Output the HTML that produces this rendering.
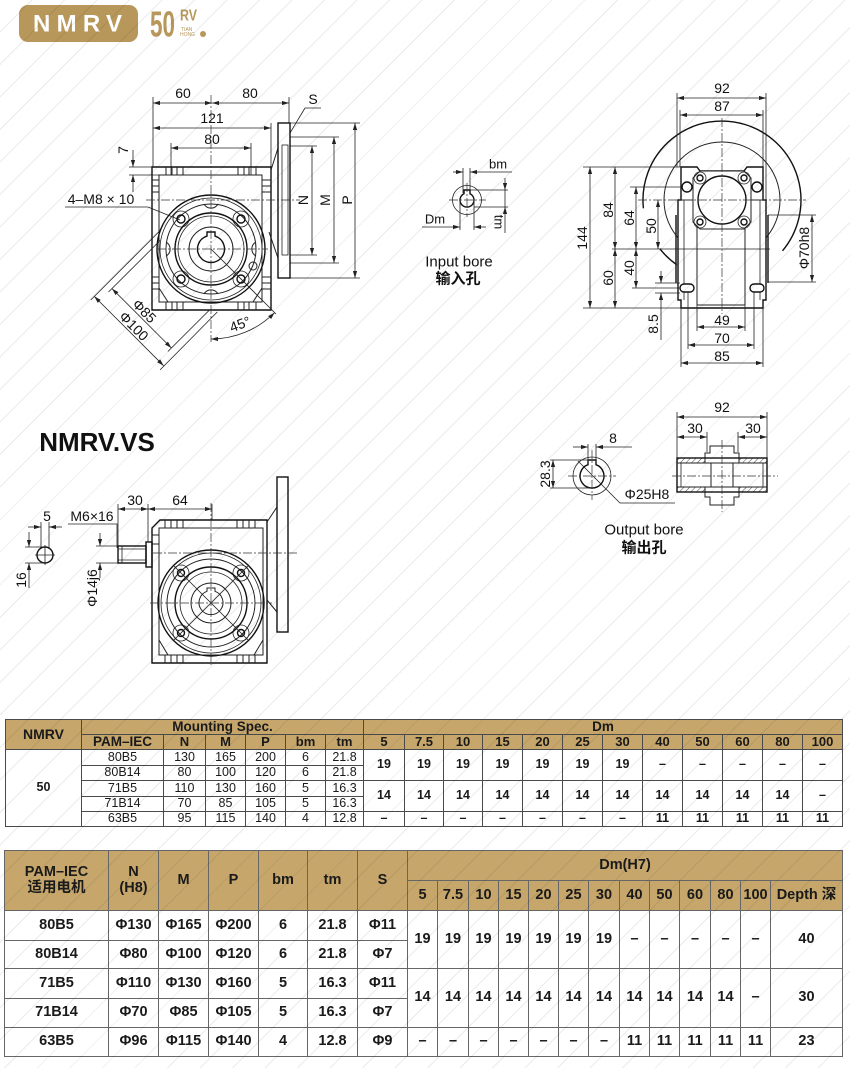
<!DOCTYPE html>
<html><head><meta charset="utf-8">
<style>
*{margin:0;padding:0;box-sizing:border-box}
body{width:850px;height:1068px;overflow:hidden;background:#fff;position:relative;font-family:"Liberation Sans","Noto Sans CJK SC",sans-serif;color:#1a1a1a}
svg{position:absolute;left:0;top:0}
.ov{position:absolute;left:0;top:0;width:850px;height:1068px;pointer-events:none;background:repeating-linear-gradient(135deg,rgba(0,0,0,0) 0 22px,rgba(0,0,0,0.08) 22px 23px)}
.grid{position:absolute;display:grid;gap:1px;padding:1px}
.grid div{background:#fff;display:flex;align-items:center;justify-content:center;text-align:center;line-height:1.05;white-space:nowrap}
.grid div.h{background:#c6a66b;font-weight:bold}
.g1{left:5px;top:719px;background:#4a4a4a;grid-template-columns:75px 81px 41px 39px 39px 39px 37px 40px 38px 38px 39px 39px 39px 39px 39px 39px 39px 39px 39px;grid-template-rows:14px 14px 15px 14px 15px 14px 14px;font-size:12.5px}
.g1 div.h{font-size:13px}
.g2{left:4px;top:850px;background:#666;grid-template-columns:103px 49px 49px 49px 48px 49px 49px 29px 30px 29px 29px 29px 29px 30px 29px 29px 30px 29px 29px 71px;grid-template-rows:29px 29px 29px 27px 29px 28px 28px;font-size:14.5px;font-weight:bold}
.g2 div.h{font-size:14.5px}
.b{font-weight:bold}
.r2{grid-row:span 2}
</style></head><body>
<svg width="850" height="712" viewBox="0 0 850 712">
<defs>
<marker id="a" viewBox="0 0 10 6" refX="10" refY="3" markerWidth="8" markerHeight="4.2" orient="auto-start-reverse" markerUnits="userSpaceOnUse"><path d="M0,0L10,3L0,6z" fill="#222"/></marker>
<pattern id="hp" width="4" height="4" patternUnits="userSpaceOnUse" patternTransform="rotate(45)"><line x1="0" y1="0" x2="0" y2="4" stroke="#333" stroke-width="0.9"/></pattern>
</defs>
<style>
.t{stroke:#222;stroke-width:.8;fill:none}
.k{stroke:#111;stroke-width:1.4;fill:none}
.m{stroke:#222;stroke-width:1;fill:none}
.d{stroke:#222;stroke-width:.8;fill:none;marker-start:url(#a);marker-end:url(#a)}
.e{stroke:#222;stroke-width:.8;fill:none;marker-end:url(#a)}
.c{stroke:#333;stroke-width:.7;fill:none;stroke-dasharray:9 2 2 2}
text{font-family:"Liberation Sans","Noto Sans CJK SC",sans-serif;font-size:14px;fill:#111;text-anchor:middle;dominant-baseline:central}
</style>

<!-- HEADER LOGO -->
<rect x="19" y="5" width="119" height="37" rx="9" fill="#b8975a"/>
<text x="33" y="24" textLength="89" lengthAdjust="spacing" style="text-anchor:start;font-size:24px;font-weight:bold;fill:#fff">NMRV</text>
<text x="150" y="24" textLength="25" lengthAdjust="spacingAndGlyphs" style="text-anchor:start;font-size:36px;font-weight:bold;fill:#b8975a">50</text>
<text x="180" y="16" textLength="17" lengthAdjust="spacingAndGlyphs" style="text-anchor:start;font-size:16px;font-weight:bold;fill:#b8975a">RV</text>
<text x="181" y="30" style="text-anchor:start;font-size:5px;fill:#b8975a">TIAN</text>
<text x="180" y="35" style="text-anchor:start;font-size:5px;fill:#b8975a">HONG</text>
<circle cx="203" cy="34" r="3" fill="#b8975a"/>

<!-- ============ TOP LEFT VIEW ============ -->
<g class="t">
<path d="M153,97V167 M289,97V123 M271,123V167 M171,143V175 M251,143V175"/>
<path d="M129,167H152 M129,175H159"/>
<path d="M290,123H360 M290,137H339 M290,146H317 M290,255H317 M290,263H339 M290,278H360"/>
<path d="M305,108H321 M305,108L290,133"/>
<path d="M65,207H148L180,220"/>
</g>
<path class="d" d="M153,103H212"/>
<path class="d" d="M212,103H289"/>
<path class="d" d="M153,128H271"/>
<path class="d" d="M171,148H251"/>
<path class="e" d="M133,150V167"/>
<path class="e" d="M133,192V175"/>
<path class="d" d="M312,146V255"/>
<path class="d" d="M334,137V263"/>
<path class="d" d="M355,123V278"/>
<text x="183" y="93">60</text>
<text x="250" y="93">80</text>
<text x="212" y="118">121</text>
<text x="212" y="139">80</text>
<text x="123" y="150" transform="rotate(-90 123 150)">7</text>
<text x="313" y="99">S</text>
<text x="303" y="200" transform="rotate(-90 303 200)">N</text>
<text x="325" y="200" transform="rotate(-90 325 200)">M</text>
<text x="347" y="200" transform="rotate(-90 347 200)">P</text>
<text x="101" y="199">4–M8 × 10</text>

<!-- housing -->
<path class="k" d="M152,167H271V310H152Z"/>
<path class="m" d="M159,175H262V302H159Z"/>
<path class="m" d="M166,167V175M172,167V175M177,167V175M183,167V175M238,167V175M244,167V175M249,167V175M256,167V175"/>
<path class="m" d="M166,302V310M172,302V310M177,302V310M183,302V310M238,302V310M244,302V310M249,302V310M256,302V310"/>
<path class="m" d="M152,180H159M152,186H159M152,192H159M152,277H159M152,283H159M152,289H159"/>
<path class="m" d="M262,180H271M262,186H271M262,192H271M262,277H271M262,283H271M262,289H271"/>
<path class="m" d="M159,288L168,302 M262,288L253,302"/>
<!-- neck and flange -->
<path class="m" d="M271,170L278,148 M269,232L278,258"/>
<rect class="k" x="278" y="123" width="12" height="155"/>
<rect class="t" x="282" y="145" width="6" height="110"/>

<!-- circles -->
<circle class="k" cx="211" cy="249" r="54"/>
<circle class="t" cx="211" cy="249" r="51"/>
<circle class="m" cx="211" cy="249" r="45"/>
<g class="t"><circle cx="181" cy="219" r="8"/><circle cx="241" cy="219" r="8"/><circle cx="181" cy="279" r="8"/><circle cx="241" cy="279" r="8"/></g>
<path class="m" d="M204,204A8,8 0 0,0 218,204 M204,294A8,8 0 0,1 218,294 M166,242A8,8 0 0,1 166,256 M256,242A8,8 0 0,0 256,256"/>
<circle class="k" cx="211" cy="249" r="36"/>
<circle class="t" cx="211" cy="249" r="33"/>
<circle class="m" cx="211" cy="249" r="22"/>
<path class="k" d="M207,236.1V232H215V236.1A13.5,13.5 0 1,1 207,236.1Z"/>
<g class="k"><circle cx="181" cy="219" r="4"/><circle cx="241" cy="219" r="4"/><circle cx="181" cy="279" r="4"/><circle cx="241" cy="279" r="4"/></g>
<circle class="m" cx="253" cy="266" r="4"/>
<path class="c" d="M146,200H300 M157,249H268 M211,95V342"/>

<!-- phi dims -->
<path class="t" d="M90.8,300L158.7,232 M160.1,369.9L217.4,311.9"/>
<path class="t" d="M108.5,292L160.1,240.5 M167.9,351.5L209.1,310.4"/>
<path class="d" d="M94.3,296.4L163.6,365.7"/>
<path class="d" d="M112,288.6L171.4,348"/>
<text x="144.5" y="311" transform="rotate(45 144.5 311)">Φ85</text>
<text x="134" y="326" transform="rotate(45 134 326)">Φ100</text>
<path class="t" d="M211,249L276,314"/>
<path class="d" d="M211,339A90,90 0 0,0 274.6,312.6"/>
<text x="240" y="324" transform="rotate(-20 240 324)">45°</text>

<!-- ============ INPUT BORE ============ -->
<circle class="t" cx="467" cy="200" r="14.5"/>
<path class="k" d="M464,193.7V190H470V193.7A7,7 0 1,1 464,193.7Z"/>
<path class="c" d="M449,200H486 M467,183V217"/>
<path class="t" d="M463,168V193 M470,168V190 M470,190H508 M474,207H508 M460,200V230 M474,200V230"/>
<path class="e" d="M453,172H463"/>
<path class="e" d="M512,172H470"/>
<path class="t" d="M505,190V207"/>
<path class="e" d="M505,178V190"/>
<path class="e" d="M505,233V207"/>
<path class="e" d="M422,227H460"/>
<path class="e" d="M486,227H474"/>
<text x="498" y="164" style="font-size:13px">bm</text>
<text x="499" y="222" transform="rotate(90 499 222)" style="font-size:13px">tm</text>
<text x="435" y="219" style="font-size:13px">Dm</text>
<text x="459" y="262" style="font-size:15px">Input bore</text>
<text x="458" y="279" style="font-size:15px;font-weight:bold">输入孔</text>

<!-- ============ RIGHT VIEW ============ -->
<path class="k" d="M643.4,208.3A79,79 0 1,1 782.5,250.8"/>
<path class="k" d="M676.7,264.7A79,79 0 0,1 659.7,248.6"/>
<circle class="m" cx="722" cy="200" r="58"/>
<path class="k" style="fill:#fff" d="M681,167H697L700,171H744L747,167H763V200H766V300H763V308H681V300H678V200H681Z"/>
<path class="k" d="M676,215V283 M768,215V283"/>
<path class="m" d="M697,200V305 M745,200V305 M697,305H745 M681,200H697 M745,200H763"/>
<path class="t" d="M684,200V300 M760,200V300"/>
<path class="m" style="fill:#fff" d="M700,171H744L751,178V222L744,229H700L693,222V178Z"/>
<circle class="k" style="fill:#fff" cx="722" cy="200" r="24"/>
<g class="t"><circle cx="700" cy="178" r="6"/><circle cx="744" cy="178" r="6"/><circle cx="700" cy="222" r="6"/><circle cx="744" cy="222" r="6"/></g>
<g class="k"><circle cx="700" cy="178" r="3"/><circle cx="744" cy="178" r="3"/><circle cx="700" cy="222" r="3"/><circle cx="744" cy="222" r="3"/><circle cx="687" cy="187" r="5"/><circle cx="757" cy="187" r="5"/></g>
<rect class="k" style="fill:#fff" x="680" y="284" width="14" height="8" rx="4"/>
<rect class="k" style="fill:#fff" x="750" y="284" width="14" height="8" rx="4"/>
<path class="c" d="M722,118V314 M638,200H806"/>
<path class="t" d="M677,93V167 M766,93V200 M680,110V167 M763,110V167"/>
<path class="d" d="M677,98H766"/>
<path class="d" d="M680,115H763"/>
<text x="722" y="88">92</text>
<text x="722" y="106">87</text>
<path class="t" d="M583,167H681 M583,308H681 M612,249H770 M630,187H683 M632,288H680 M655,283H680 M655,293H680"/>
<path class="d" d="M590,167V308"/>
<path class="d" d="M615,167V249"/>
<path class="d" d="M615,249V308"/>
<path class="d" d="M636,187V249"/>
<path class="d" d="M636,249V288"/>
<path class="d" d="M658,200V249"/>
<path class="e" d="M661,271V283"/>
<path class="e" d="M661,305V293"/>
<path class="t" d="M661,305V340"/>
<text x="582" y="238" transform="rotate(-90 582 238)">144</text>
<text x="608" y="210" transform="rotate(-90 608 210)">84</text>
<text x="608" y="278" transform="rotate(-90 608 278)">60</text>
<text x="629" y="218" transform="rotate(-90 629 218)">64</text>
<text x="629" y="268" transform="rotate(-90 629 268)">40</text>
<text x="651" y="226" transform="rotate(-90 651 226)">50</text>
<text x="653" y="324" transform="rotate(-90 653 324)">8.5</text>
<path class="t" d="M768,215H816 M768,282H816"/>
<path class="d" d="M812,215V282"/>
<text x="804" y="248" transform="rotate(-90 804 248)">Φ70h8</text>
<path class="t" d="M697,305V331 M745,305V331 M688,292V349 M754,292V349 M681,308V367 M763,308V367"/>
<path class="d" d="M697,327H745"/>
<path class="d" d="M688,345H754"/>
<path class="d" d="M681,363H763"/>
<text x="722" y="320">49</text>
<text x="722" y="338">70</text>
<text x="722" y="356">85</text>

<!-- ============ OUTPUT BORE ============ -->
<circle class="t" cx="592" cy="476" r="19"/>
<path class="k" d="M588,464.7V460H596V464.7A12,12 0 1,1 588,464.7Z"/>
<path class="c" d="M568,476H616 M592,450V500"/>
<path class="t" d="M588,444V462 M596,444V462 M550,460H588 M550,488H592"/>
<path class="e" d="M573,447H588"/>
<path class="e" d="M632,447H596"/>
<path class="d" d="M553,460V488"/>
<text x="613" y="438">8</text>
<text x="545" y="474" transform="rotate(-90 545 474)">28.3</text>
<path class="t" d="M578,461L620,503H675"/>
<text x="647" y="494">Φ25H8</text>

<!-- hollow shaft -->
<rect x="677" y="458" width="28" height="5" fill="url(#hp)"/>
<rect x="739" y="458" width="28" height="5" fill="url(#hp)"/>
<rect x="677" y="487" width="28" height="5" fill="url(#hp)"/>
<rect x="739" y="487" width="28" height="5" fill="url(#hp)"/>
<path d="M705,463V453H710V446H734V453H739V463Z" fill="url(#hp)" class="m"/>
<path d="M705,487V497H710V505H734V497H739V487Z" fill="url(#hp)" class="m"/>
<rect class="k" x="677" y="458" width="90" height="34"/>
<path class="m" d="M677,463H767 M677,487H767 M711,463V487 M733,463V487"/>
<path class="t" d="M681,463V487 M763,463V487"/>
<path class="c" d="M672,476H778 M722,440V512"/>
<path class="t" d="M677,412V458 M767,412V458 M707,432V452 M738,432V452"/>
<path class="d" d="M677,417H767"/>
<path class="d" d="M677,437H707"/>
<path class="d" d="M738,437H767"/>
<text x="722" y="407">92</text>
<text x="695" y="428">30</text>
<text x="753" y="428">30</text>
<text x="644" y="530" style="font-size:15px">Output bore</text>
<text x="644" y="548" style="font-size:15px;font-weight:bold">输出孔</text>

<!-- ============ NMRV.VS ============ -->
<text x="97" y="442" style="font-size:26px;font-weight:bold">NMRV.VS</text>
<circle class="k" cx="45" cy="555" r="8"/>
<path class="t" d="M35,555H55 M45,545V565"/>
<path class="t" d="M41,522V549 M49,522V549 M25,547H44 M25,563H44"/>
<path class="e" d="M28,527H41"/>
<path class="e" d="M62,527H49"/>
<path class="e" d="M29,532V547"/>
<path class="e" d="M29,588V563"/>
<text x="47" y="516">5</text>
<text x="21" y="580" transform="rotate(-90 21 580)">16</text>
<text x="92" y="516">M6×16</text>
<path class="t" d="M68,524H117V548"/>
<path class="t" d="M118,504V546 M148,504V542 M212,504V520 M96,546H118 M96,563H118"/>
<path class="d" d="M118,509H148"/>
<path class="d" d="M148,509H212"/>
<text x="135" y="500">30</text>
<text x="180" y="500">64</text>
<path class="e" d="M100,533V546"/>
<path class="e" d="M100,578V563"/>
<text x="92" y="588" transform="rotate(-90 92 588)">Φ14j6</text>
<rect class="k" x="118" y="546" width="28" height="17"/>
<path class="t" d="M118,549H146 M118,560H146 M122,546V563"/>
<rect class="k" x="146" y="542" width="6" height="25"/>
<rect class="m" x="152" y="535" width="7" height="9"/>
<path class="k" d="M160,520H267V663H152V528Z"/>
<path class="m" d="M159,528H263V655H159Z"/>
<path class="m" d="M165,520V528M171,520V528M177,520V528M183,520V528M237,520V528M243,520V528M249,520V528M255,520V528"/>
<path class="m" d="M165,655V663M171,655V663M177,655V663M183,655V663M237,655V663M243,655V663M249,655V663M255,655V663"/>
<path class="m" d="M159,640L168,655 M263,640L254,655"/>
<path class="m" d="M267,522L277,507 M267,600L277,612"/>
<rect class="k" x="277" y="477" width="11" height="155"/>
<circle class="k" cx="211" cy="603" r="53"/>
<circle class="t" cx="211" cy="603" r="50"/>
<circle class="m" cx="211" cy="603" r="44"/>
<g class="t"><circle cx="181" cy="573" r="8"/><circle cx="241" cy="573" r="8"/><circle cx="181" cy="633" r="8"/><circle cx="241" cy="633" r="8"/></g>
<path class="t" d="M174,566L248,640 M248,566L174,640"/>
<circle class="k" cx="211" cy="603" r="36"/>
<circle class="t" cx="211" cy="603" r="31"/>
<circle class="m" cx="211" cy="603" r="20"/>
<path class="m" d="M207,591.3V588H215V591.3A12,12 0 1,1 207,591.3Z"/>
<g class="k"><circle cx="181" cy="573" r="3.5"/><circle cx="241" cy="573" r="3.5"/><circle cx="181" cy="633" r="3.5"/><circle cx="241" cy="633" r="3.5"/></g>
<path class="c" d="M153,553H297 M150,603H272 M211,503V665"/>
</svg>

<!-- TABLE 1 -->
<div class="grid g1">
<div class="h r2" style="font-size:14px">NMRV</div><div class="h" style="grid-column:span 6;font-size:13.5px">Mounting Spec.</div><div class="h" style="grid-column:span 12;font-size:13.5px">Dm</div>
<div class="h" style="font-size:13.5px">PAM–IEC</div><div class="h">N</div><div class="h">M</div><div class="h">P</div><div class="h">bm</div><div class="h">tm</div><div class="h">5</div><div class="h">7.5</div><div class="h">10</div><div class="h">15</div><div class="h">20</div><div class="h">25</div><div class="h">30</div><div class="h">40</div><div class="h">50</div><div class="h">60</div><div class="h">80</div><div class="h">100</div>
<div class="b" style="grid-row:span 5">50</div><div>80B5</div><div>130</div><div>165</div><div>200</div><div>6</div><div>21.8</div><div class="b r2">19</div><div class="b r2">19</div><div class="b r2">19</div><div class="b r2">19</div><div class="b r2">19</div><div class="b r2">19</div><div class="b r2">19</div><div class="b r2">–</div><div class="b r2">–</div><div class="b r2">–</div><div class="b r2">–</div><div class="b r2">–</div>
<div>80B14</div><div>80</div><div>100</div><div>120</div><div>6</div><div>21.8</div>
<div>71B5</div><div>110</div><div>130</div><div>160</div><div>5</div><div>16.3</div><div class="b r2">14</div><div class="b r2">14</div><div class="b r2">14</div><div class="b r2">14</div><div class="b r2">14</div><div class="b r2">14</div><div class="b r2">14</div><div class="b r2">14</div><div class="b r2">14</div><div class="b r2">14</div><div class="b r2">14</div><div class="b r2">–</div>
<div>71B14</div><div>70</div><div>85</div><div>105</div><div>5</div><div>16.3</div>
<div>63B5</div><div>95</div><div>115</div><div>140</div><div>4</div><div>12.8</div><div class="b">–</div><div class="b">–</div><div class="b">–</div><div class="b">–</div><div class="b">–</div><div class="b">–</div><div class="b">–</div><div class="b">11</div><div class="b">11</div><div class="b">11</div><div class="b">11</div><div class="b">11</div>
</div>

<!-- TABLE 2 -->
<div class="grid g2">
<div class="h r2">PAM–IEC<br>适用电机</div><div class="h r2">N<br>(H8)</div><div class="h r2">M</div><div class="h r2">P</div><div class="h r2">bm</div><div class="h r2">tm</div><div class="h r2">S</div><div class="h" style="grid-column:span 13">Dm(H7)</div>
<div class="h">5</div><div class="h">7.5</div><div class="h">10</div><div class="h">15</div><div class="h">20</div><div class="h">25</div><div class="h">30</div><div class="h">40</div><div class="h">50</div><div class="h">60</div><div class="h">80</div><div class="h">100</div><div class="h">Depth 深</div>
<div>80B5</div><div>Φ130</div><div>Φ165</div><div>Φ200</div><div>6</div><div>21.8</div><div>Φ11</div><div class="r2">19</div><div class="r2">19</div><div class="r2">19</div><div class="r2">19</div><div class="r2">19</div><div class="r2">19</div><div class="r2">19</div><div class="r2">–</div><div class="r2">–</div><div class="r2">–</div><div class="r2">–</div><div class="r2">–</div><div class="r2">40</div>
<div>80B14</div><div>Φ80</div><div>Φ100</div><div>Φ120</div><div>6</div><div>21.8</div><div>Φ7</div>
<div>71B5</div><div>Φ110</div><div>Φ130</div><div>Φ160</div><div>5</div><div>16.3</div><div>Φ11</div><div class="r2">14</div><div class="r2">14</div><div class="r2">14</div><div class="r2">14</div><div class="r2">14</div><div class="r2">14</div><div class="r2">14</div><div class="r2">14</div><div class="r2">14</div><div class="r2">14</div><div class="r2">14</div><div class="r2">–</div><div class="r2">30</div>
<div>71B14</div><div>Φ70</div><div>Φ85</div><div>Φ105</div><div>5</div><div>16.3</div><div>Φ7</div>
<div>63B5</div><div>Φ96</div><div>Φ115</div><div>Φ140</div><div>4</div><div>12.8</div><div>Φ9</div><div>–</div><div>–</div><div>–</div><div>–</div><div>–</div><div>–</div><div>–</div><div>11</div><div>11</div><div>11</div><div>11</div><div>11</div><div>23</div>
</div>

<div class="ov"></div>
</body></html>
